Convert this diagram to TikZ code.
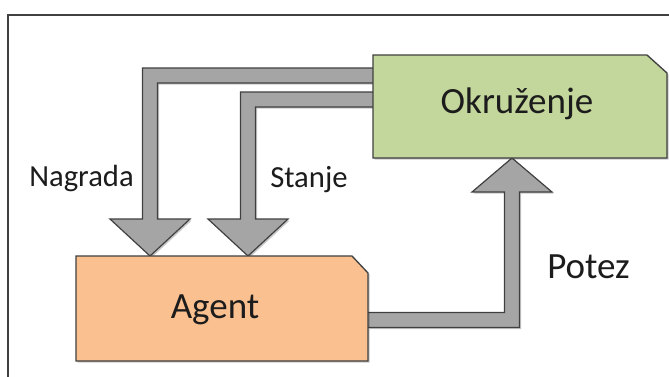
\documentclass[tikz,border=0pt]{standalone}
\usepackage{fontspec}
\setmainfont{Carlito}
\usetikzlibrary{calc,shadows}
\definecolor{envfill}{HTML}{C3D69B}
\definecolor{agentfill}{HTML}{FAC090}
\definecolor{arrowfill}{HTML}{A5A5A5}
\definecolor{edgegray}{HTML}{404040}
\definecolor{inkcol}{HTML}{1C1C1C}
\tikzset{
  box/.style={draw=none, fill=none, inner sep=0pt, outer sep=0pt},
  softshadow/.style={drop shadow={shadow xshift=1.2pt, shadow yshift=-1.2pt, opacity=0.22, fill=black}},
  boxline/.style={draw=edgegray, line width=1pt, line join=miter, softshadow},
  blockarrow/.style={fill=arrowfill, draw=edgegray, line width=0.9pt, line join=miter, softshadow},
  bigtext/.style={font=\fontsize{27.75}{33}\selectfont, text=inkcol, inner sep=0pt},
  smalltext/.style={font=\fontsize{23}{28}\selectfont, text=inkcol, inner sep=0pt},
}
\begin{document}
\begin{tikzpicture}[x=0.75pt, y=-0.75pt]
  \useasboundingbox (0,0) rectangle (669,376);
  \fill[white] (0,0) rectangle (669,376);

  % outer frame (runs off the right and bottom edges)
  \begin{scope}
    \clip (0,0) rectangle (669,376);
    \draw[edgegray, line width=1.5pt] (700,15) -- (8,15) -- (8,400);
  \end{scope}

  % box placeholders
  \node[box, minimum width=220.5pt, minimum height=77.25pt] (env) at (520,106.5) {};
  \node[box, minimum width=219pt, minimum height=78.75pt] (agent) at (222,308.5) {};

  % arrow tips
  \coordinate (nagTip) at ($(agent.north west)+(74,0)$);
  \coordinate (stTip)  at ($(agent.north west)+(172,0)$);
  \coordinate (potTip) at ($(env.south west)+(139,0)$);

  % Nagrada: environment -> agent
  \draw[blockarrow]
    ($(env.north west)+(0,13)$)
    -| ($(nagTip)+(-7.5,-37)$)
    -- ($(nagTip)+(-40,-37)$)
    -- (nagTip)
    -- ($(nagTip)+(40,-37)$)
    -- ($(nagTip)+(7.5,-37)$)
    |- ($(env.north west)+(0,28)$);

  % Stanje: environment -> agent
  \draw[blockarrow]
    ($(env.north west)+(0,37)$)
    -| ($(stTip)+(-7.5,-37)$)
    -- ($(stTip)+(-40,-37)$)
    -- (stTip)
    -- ($(stTip)+(40,-37)$)
    -- ($(stTip)+(7.5,-37)$)
    |- ($(env.north west)+(0,52)$);

  % Potez: agent -> environment
  \draw[blockarrow]
    ($(agent.north east)+(0,56.5)$)
    -| ($(potTip)+(-7.5,34)$)
    -- ($(potTip)+(-40,34)$)
    -- (potTip)
    -- ($(potTip)+(40,34)$)
    -- ($(potTip)+(7.5,34)$)
    |- ($(agent.north east)+(0,71.5)$);

  % boxes with a clipped top-right corner
  \draw[boxline, fill=envfill]
    (env.south west) -- (env.north west)
    -- ($(env.north east)+(-20,0)$) -- ($(env.north east)+(0,18)$)
    -- (env.south east) -- cycle;
  \draw[boxline, fill=agentfill]
    (agent.south west) -- (agent.north west)
    -- ($(agent.north east)+(-16,0)$) -- ($(agent.north east)+(0,17)$)
    -- (agent.south east) -- cycle;

  % texts
  \node[bigtext, anchor=base] (envtext) at ($(env.north west)+(144,58)$) {Okruženje};
  \node[bigtext, anchor=base] (agenttext) at ($(agent.north west)+(139,62)$) {Agent};
  \node[smalltext, anchor=base west] (nagtext) at (29,186) {Nagrada};
  \node[smalltext, anchor=base west] (sttext) at (270,187) {Stanje};
  \node[bigtext, anchor=base west] (pottext) at (547,278) {Potez};
\end{tikzpicture}
\end{document}
